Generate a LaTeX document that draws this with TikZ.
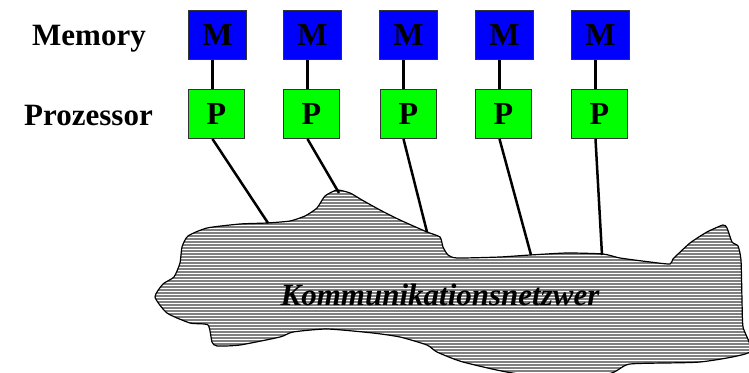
\documentclass[tikz,border=0pt]{standalone}
\usepackage{fontspec}
\setmainfont{Liberation Serif}
\begin{document}
\begin{tikzpicture}[x=1pt,y=-1pt,
  lbl/.style={font=\fontsize{31}{36}\selectfont\bfseries, inner sep=0pt, anchor=base},
  mbox/.style={draw=black!80, line width=1pt, fill=memblue, minimum width=58pt, minimum height=49pt, inner sep=0pt, anchor=north west, font=\fontsize{32}{36}\selectfont\bfseries},
  pbox/.style={draw=black!80, line width=1pt, fill=progreen, minimum width=56pt, minimum height=49pt, inner sep=0pt, anchor=north west, font=\fontsize{32}{36}\selectfont\bfseries},
  link/.style={line width=2.5pt, black},
  blobline/.style={draw=black, line width=1.2pt}]
\definecolor{memblue}{RGB}{0,0,255}
\definecolor{progreen}{RGB}{0,255,0}
\definecolor{netgray}{RGB}{128,128,128}
\useasboundingbox (0,0) rectangle (749,372);
\def\blobpath{plot[smooth cycle, tension=0.35] coordinates {
(155,297) (163,284) (174,277) (180,263) (182,247) (188,236) (207,228) (240,224) (267,223) (290,221) (305,216) (317,208) (325,196) (337,190) (350,193) (362,200) (380,210) (400,220) (427,232) (440,237) (443,247) (448,255) (457,258) (500,257) (530,255) (567,253) (603,254) (620,258) (650,262) (670,264) (673,259) (690,243) (707,232) (723,225) (727,228) (732,242) (738,246) (741,260) (742,300) (743,327) (750,352) (700,362) (630,364) (607,374) (520,374) (463,362) (437,352) (427,345) (400,337) (373,333) (327,329) (293,332) (280,337) (240,345) (217,346) (212,342) (208,325) (190,323) (167,313)}}
% network blob
\fill[netgray] \blobpath;
\begin{scope}
  \clip \blobpath;
  \foreach \yy in {180,183,...,378} {
    \draw[white, line width=1pt] (140,\yy) -- (760,\yy);
  }
\end{scope}
\draw[blobline] \blobpath;
\node[lbl, font=\fontsize{31}{36}\selectfont\bfseries\itshape] (net) at (440,305) {Kommunikationsnetzwer};
% labels
\node[lbl] (memlbl) at (89,45) {Memory};
\node[lbl] (prolbl) at (88.5,125) {Prozessor};
% boxes
\foreach \i/\mx/\px in {1/188/188, 2/283/283, 3/379/380, 4/475/475, 5/571/571} {
  \node[mbox] (m\i) at (\mx,10) {M};
  \node[pbox] (p\i) at (\px,89) {P};
  \draw[link] ([xshift=-5pt]m\i.south) -- ([xshift=-5pt]m\i.south |- p\i.north);
}
% attachment points on network
\coordinate (c1) at (268,223);
\coordinate (c2) at (339,193);
\coordinate (c3) at (427,232);
\coordinate (c4) at (531,255);
\coordinate (c5) at (602,255);
\foreach \i in {1,...,5} {
  \draw[link] ([xshift=-5pt]m\i.south |- p\i.south) -- (c\i);
}
\end{tikzpicture}
\end{document}
